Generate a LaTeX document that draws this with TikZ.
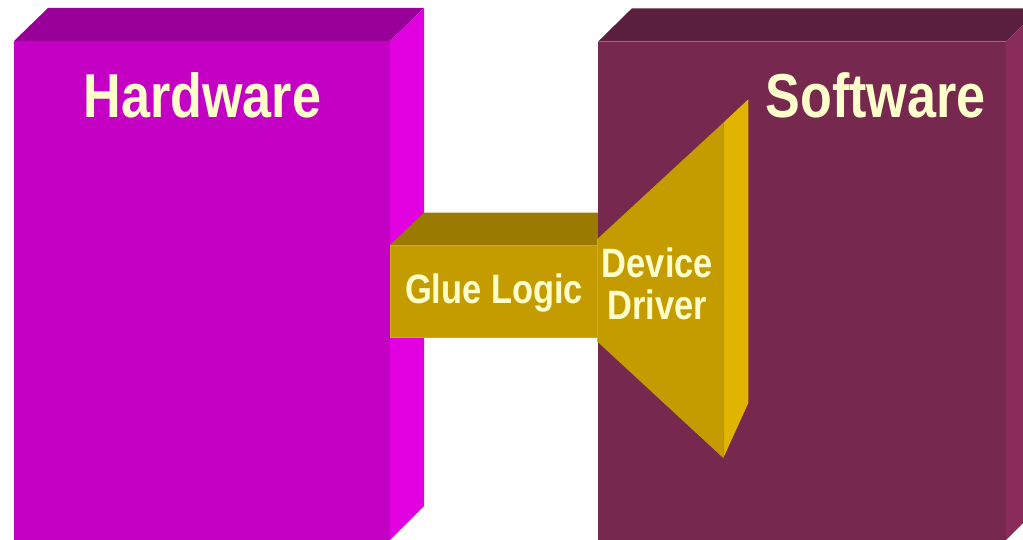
\documentclass[tikz,border=0pt]{standalone}
\usepackage{fontspec}
\newfontfamily\labelfont[FakeStretch=0.84]{Liberation Sans}
\definecolor{hwFront}{HTML}{C400C4}
\definecolor{hwTop}{HTML}{990099}
\definecolor{hwSide}{HTML}{E000E0}
\definecolor{swFront}{HTML}{76284E}
\definecolor{swTop}{HTML}{5B1F3F}
\definecolor{swSide}{HTML}{8A2C5A}
\definecolor{glFront}{HTML}{C49C00}
\definecolor{glTop}{HTML}{9A7A00}
\definecolor{glEdge}{HTML}{D4AA10}
\definecolor{drSide}{HTML}{E0B400}
\definecolor{cream}{HTML}{FFFFCC}
\tikzset{
  bigtitle/.style={anchor=base,text=cream,font=\labelfont\bfseries\fontsize{62}{62}\selectfont,inner sep=0pt},
  smalltitle/.style={text=cream,font=\labelfont\bfseries\fontsize{41}{41}\selectfont,inner sep=0pt},
}
\begin{document}
\begin{tikzpicture}[x=1pt,y=-1pt]
\useasboundingbox (0,0) rectangle (1023,540);
\fill[white] (0,0) rectangle (1023,540);

% hardware block
\fill[hwTop] (14,41) -- (48,8) -- (424,8) -- (390,41) -- cycle;
\fill[hwSide] (390,41) -- (424,8) -- (424,506) -- (390,540) -- cycle;
\fill[hwFront] (14,41) rectangle (390,540);
\node[bigtitle] (hw) at (202.5,117.3) {Hardware};

% glue logic bar
\fill[glTop] (390,245) -- (424,212.7) -- (610,212.7) -- (598,245) -- cycle;
\fill[glFront, draw=glEdge, line width=0.8pt] (390,245) rectangle (597,337);

% software block
\fill[swTop] (598,41.7) -- (632,8.3) -- (1040,8.3) -- (1006,41.7) -- cycle;
\fill[swSide] (1006,41.7) -- (1040,8.3) -- (1040,506) -- (1006,540) -- cycle;
\fill[swFront] (598,41.7) rectangle (1006,540);
\node[bigtitle] (sw) at (875.5,117.3) {Software};

% device driver funnel
\fill[drSide] (723.3,122.7) -- (748.3,99.3) -- (748.3,403) -- (723.3,458) -- cycle;
\fill[glFront] (597,239.3) -- (723.3,122.7) -- (723.3,458) -- (597,341.3) -- cycle;
\draw[glEdge, line width=0.8pt] (597,239.3) -- (597,341.3);

\node[smalltitle, anchor=base] (glue) at (494,303.3) {Glue Logic};
\node[smalltitle, anchor=base] (dev) at (657.5,277.5) {Device};
\node[smalltitle, anchor=base] (drv) at (657.5,319) {Driver};
\end{tikzpicture}
\end{document}
